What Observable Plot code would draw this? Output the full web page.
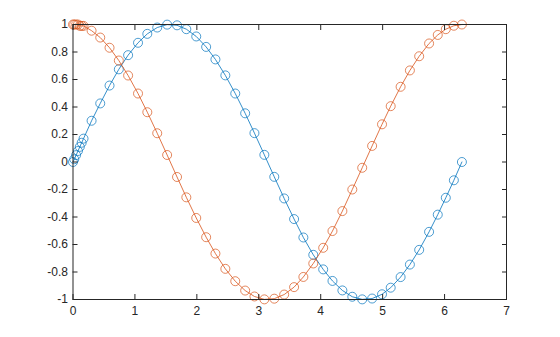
<!DOCTYPE html>
<html>
<head>
<meta charset="utf-8">
<script src="https://cdn.jsdelivr.net/npm/d3@7"></script>
<script src="https://cdn.jsdelivr.net/npm/@observablehq/plot@0.6"></script>
<style>
  html, body { margin: 0; padding: 0; background: #ffffff; }
  #chart svg { display: block; }
</style>
</head>
<body>
<div id="chart"></div>
<script>
const xValues = [0, 0.02, 0.05, 0.08, 0.11, 0.14, 0.17, 0.30, 0.44, 0.59, 0.74, 0.89, 1.05, 1.20, 1.36, 1.52, 1.68, 1.83, 1.99, 2.15, 2.30, 2.46, 2.62, 2.78, 2.93, 3.09, 3.25, 3.41, 3.57, 3.72, 3.88, 4.04, 4.19, 4.35, 4.51, 4.67, 4.83, 4.99, 5.13, 5.29, 5.44, 5.59, 5.75, 5.89, 6.02, 6.15, 6.28];
const sinValues = [0, 0.02, 0.05, 0.08, 0.11, 0.14, 0.17, 0.30, 0.426, 0.556, 0.674, 0.777, 0.867, 0.932, 0.978, 0.999, 0.994, 0.966, 0.913, 0.837, 0.746, 0.630, 0.498, 0.354, 0.210, 0.052, -0.108, -0.265, -0.415, -0.549, -0.675, -0.781, -0.865, -0.934, -0.980, -0.999, -0.993, -0.962, -0.914, -0.837, -0.746, -0.639, -0.508, -0.383, -0.260, -0.133, 0.00];
const cosValues = [1, 1.00, 1.00, 1.00, 0.99, 0.99, 0.99, 0.955, 0.905, 0.831, 0.738, 0.629, 0.498, 0.362, 0.209, 0.051, -0.109, -0.257, -0.407, -0.547, -0.666, -0.777, -0.867, -0.935, -0.978, -0.999, -0.994, -0.964, -0.910, -0.836, -0.738, -0.624, -0.502, -0.357, -0.200, -0.042, 0.117, 0.274, 0.406, 0.547, 0.666, 0.769, 0.862, 0.924, 0.966, 0.991, 1.00];
const xTicks = [0, 1, 2, 3, 4, 5, 6, 7];
const yTicks = [-1, -0.8, -0.6, -0.4, -0.2, 0, 0.2, 0.4, 0.6, 0.8, 1];
const yTickLabels = ["-1", "-0.8", "-0.6", "-0.4", "-0.2", "0", "0.2", "0.4", "0.6", "0.8", "1"];

const blue = "#0072BD";
const orange = "#D95319";
const axisColor = "#262626";

const sinData = xValues.map((x, i) => ({x, y: sinValues[i]}));
const cosData = xValues.map((x, i) => ({x, y: cosValues[i]}));
const empty = () => "";

const plot = Plot.plot({
  width: 560,
  height: 337,
  marginLeft: 72.5,
  marginRight: 54,
  marginTop: 24,
  marginBottom: 38,
  style: {background: "#ffffff", fontFamily: "Arial, 'Liberation Sans', sans-serif", fontSize: "12px", color: axisColor},
  x: {domain: [0, 7]},
  y: {domain: [-1, 1]},
  marks: [
    Plot.line(sinData, {x: "x", y: "y", stroke: blue, strokeWidth: 0.8}),
    Plot.dot(sinData, {x: "x", y: "y", r: 4.5, stroke: blue, fill: "none", strokeWidth: 0.7}),
    Plot.line(cosData, {x: "x", y: "y", stroke: orange, strokeWidth: 0.8}),
    Plot.dot(cosData, {x: "x", y: "y", r: 4.5, stroke: orange, fill: "none", strokeWidth: 0.7}),
    Plot.frame({stroke: axisColor, strokeWidth: 1}),
    Plot.axisX(xTicks, {anchor: "bottom", tickSize: 0, tickPadding: 7, label: null, fill: axisColor, fontSize: 12}),
    Plot.axisY(yTicks, {anchor: "left", tickSize: 0, tickPadding: 5, label: null, fill: axisColor, fontSize: 12, tickFormat: (d, i) => yTickLabels[i]}),
    Plot.axisX(xTicks, {anchor: "bottom", tickSize: -5, tickFormat: empty, label: null, stroke: axisColor}),
    Plot.axisX(xTicks, {anchor: "top", tickSize: -5, tickFormat: empty, label: null, stroke: axisColor}),
    Plot.axisY(yTicks, {anchor: "left", tickSize: -5, tickFormat: empty, label: null, stroke: axisColor}),
    Plot.axisY(yTicks, {anchor: "right", tickSize: -5, tickFormat: empty, label: null, stroke: axisColor})
  ]
});
document.getElementById("chart").appendChild(plot);
</script>
</body>
</html>
